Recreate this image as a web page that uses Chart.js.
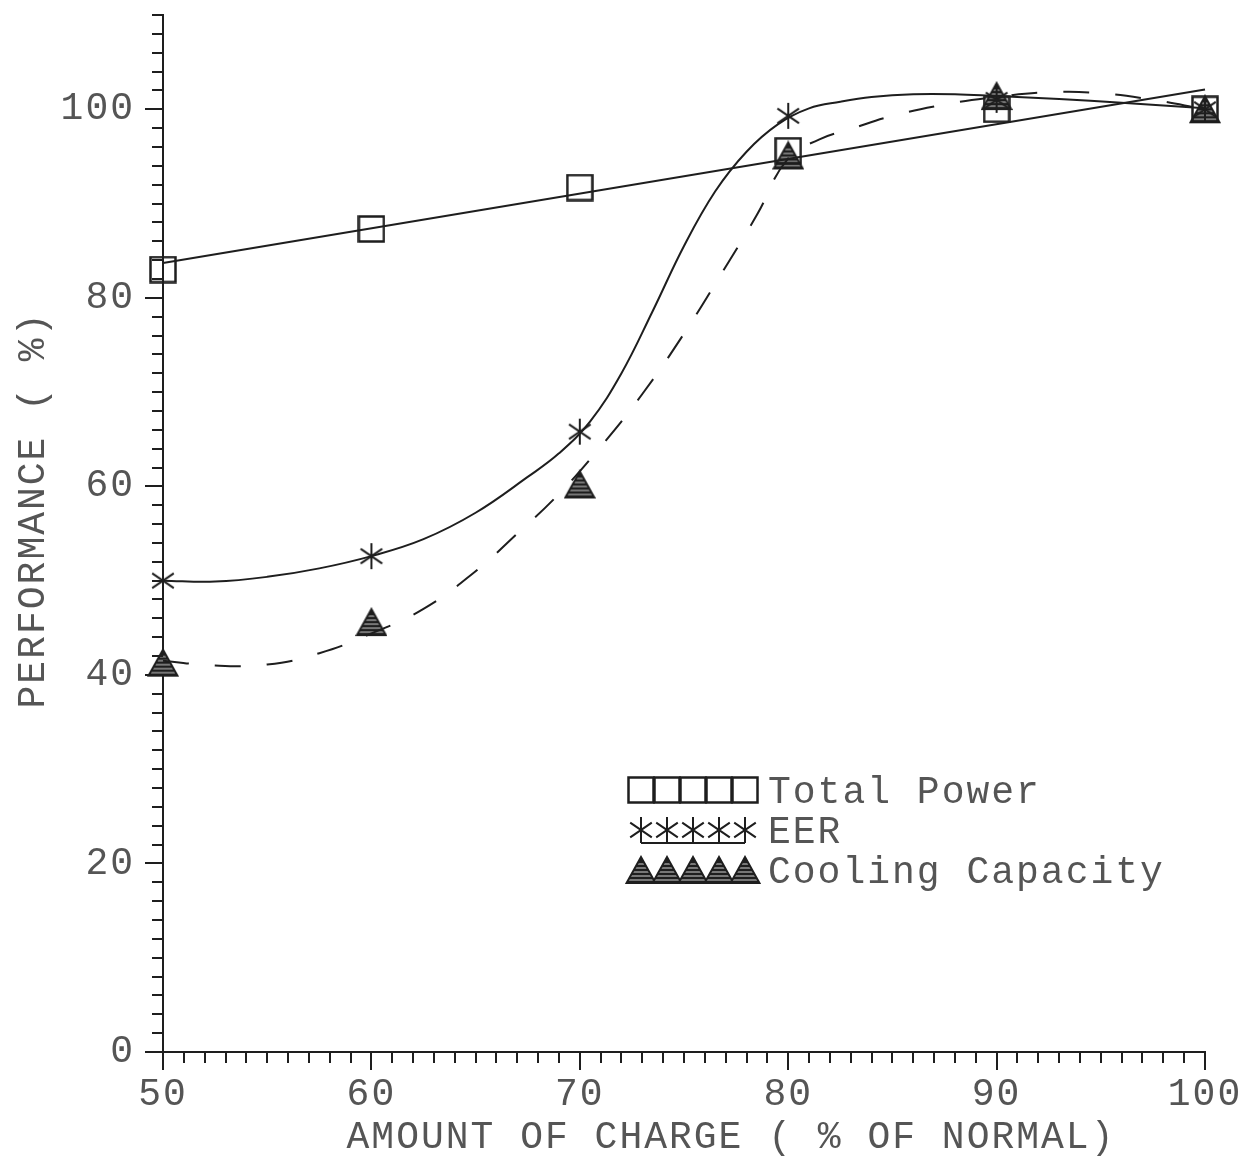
<!DOCTYPE html>
<html>
<head>
<meta charset="utf-8">
<title>Performance vs amount of charge</title>
<script src="https://cdn.jsdelivr.net/npm/chart.js@4.4.1/dist/chart.umd.min.js"></script>
<style>
  html, body { margin: 0; padding: 0; background: #fff; }
  #chart { display: block; }
</style>
</head>
<body>
<canvas id="chart" width="1250" height="1157"></canvas>
<script>
// measured points (% of normal charge)
const chargeLevels = [50, 60, 70, 80, 90, 100]
const totalPower = [83.0, 87.3, 91.7, 95.6, 100.0, 100.0]
const eer = [50.0, 52.6, 65.8, 99.3, 101.0, 100.0]
const coolingCapacity = [41.3, 45.6, 60.2, 95.1, 101.4, 100.0]

// fitted curves
const powerFitCharge = [50, 100]
const powerFitValues = [83.7, 102.1]
const eerFitCharge = [50, 52.5, 55, 57.5, 60, 62.5, 65, 67.5, 69, 70.5, 72, 73.5, 75, 76.5, 78, 79.5, 81, 82.5, 84, 86, 88, 90, 93, 96, 100]
const eerFit = [50.0, 49.9, 50.4, 51.3, 52.6, 54.4, 57.2, 61.0, 63.5, 66.9, 72.0, 78.6, 85.5, 91.3, 95.5, 98.4, 100.1, 100.8, 101.3, 101.6, 101.6, 101.4, 101.1, 100.7, 100.1]
const coolingFitCharge = [50, 52.5, 55, 57.5, 60, 62.5, 65, 67, 69, 71, 73, 75, 77, 78.5, 80, 81.5, 83, 85, 87.5, 90, 92.5, 95, 97.5, 100]
const coolingFit = [41.5, 41.0, 41.1, 42.3, 44.4, 47.0, 51.0, 55.0, 59.2, 64.2, 69.8, 76.2, 83.3, 88.8, 94.8, 96.8, 97.9, 99.3, 100.5, 101.3, 101.8, 101.7, 101.0, 100.0]

// axis tick labels
const xTickLabels = [50, 60, 70, 80, 90, 100]
const yTickLabels = [0, 20, 40, 60, 80, 100]

const ink = "#1e1e1e"
const textInk = "#555555"
const fontFamily = "'Liberation Mono', 'DejaVu Sans Mono', monospace"
const fontSize = 38

const toPoints = (xs, ys) => xs.map((x, i) => ({ x: x, y: ys[i] }))

// plotter style markers drawn on small canvases
function makeSquare() {
  const c = document.createElement("canvas")
  c.width = 28
  c.height = 28
  const g = c.getContext("2d")
  g.strokeStyle = ink
  g.lineWidth = 2.5
  g.strokeRect(1.5, 1.5, 25, 25)
  return c
}

function makeAsterisk() {
  const c = document.createElement("canvas")
  c.width = 30
  c.height = 30
  const g = c.getContext("2d")
  g.strokeStyle = ink
  g.lineWidth = 2
  g.beginPath()
  g.moveTo(15, 2)
  g.lineTo(15, 28)
  g.moveTo(4.2, 7.7)
  g.lineTo(25.8, 22.3)
  g.moveTo(4.2, 22.3)
  g.lineTo(25.8, 7.7)
  g.stroke()
  return c
}

function makeTriangle() {
  const c = document.createElement("canvas")
  c.width = 32
  c.height = 30
  const g = c.getContext("2d")
  const outline = () => {
    g.beginPath()
    g.moveTo(16, 2)
    g.lineTo(30.5, 28)
    g.lineTo(1.5, 28)
    g.closePath()
  }
  outline()
  g.fillStyle = ink
  g.fill()
  g.save()
  g.clip()
  g.strokeStyle = "#cfcfcf"
  g.lineWidth = 1.2
  for (let y = 9; y < 27; y += 4) {
    g.beginPath()
    g.moveTo(0, y)
    g.lineTo(32, y)
    g.stroke()
  }
  g.restore()
  g.strokeStyle = ink
  g.lineWidth = 2
  outline()
  g.stroke()
  return c
}

const squareMark = makeSquare()
const asteriskMark = makeAsterisk()
const triangleMark = makeTriangle()

// minor ticks, axis titles and the five-marker legend
const plotterDecor = {
  id: "plotterDecor",
  beforeDraw: (chart) => {
    chart.ctx.letterSpacing = "2px"
  },
  afterDraw: (chart) => {
    const ctx = chart.ctx
    const xs = chart.scales.x
    const ys = chart.scales.y
    const left = chart.chartArea.left
    const bottom = chart.chartArea.bottom
    ctx.save()
    ctx.strokeStyle = ink
    ctx.lineWidth = 2
    ctx.beginPath()
    for (let v = ys.min; v <= ys.max; v += 2) {
      const py = Math.round(ys.getPixelForValue(v))
      const len = v % 20 === 0 ? 18 : 11
      ctx.moveTo(left - len, py)
      ctx.lineTo(left, py)
    }
    for (let v = xs.min; v <= xs.max; v += 1) {
      const px = Math.round(xs.getPixelForValue(v))
      const len = v % 10 === 0 ? 18 : 11
      ctx.moveTo(px, bottom)
      ctx.lineTo(px, bottom + len)
    }
    ctx.stroke()

    // axis titles
    ctx.fillStyle = textInk
    ctx.font = fontSize + "px " + fontFamily
    ctx.letterSpacing = "2px"
    ctx.textAlign = "center"
    ctx.textBaseline = "alphabetic"
    ctx.fillText("AMOUNT OF CHARGE ( % OF NORMAL)", 731, 1148)
    ctx.save()
    ctx.translate(44, 510)
    ctx.rotate(-Math.PI / 2)
    ctx.fillText("PERFORMANCE ( %)", 0, 0)
    ctx.restore()

    // legend
    const items = chart.data.datasets.filter((d) => d.legendMark)
    items.forEach((d, i) => {
      const rowY = 790 + i * 40
      for (let k = 0; k < 5; k++) {
        const m = d.legendMark
        ctx.drawImage(m, 641 + k * 26 - m.width / 2, rowY - m.height / 2)
      }
      if (d.legendMark === asteriskMark) {
        ctx.beginPath()
        ctx.moveTo(641, rowY + 13)
        ctx.lineTo(745, rowY + 13)
        ctx.stroke()
      }
      ctx.textAlign = "left"
      ctx.fillText(d.label, 768, rowY + 13)
    })
    ctx.restore()
  },
}

const noScalePadding = (scale) => {
  scale.paddingTop = 0
  scale.paddingBottom = 0
  scale.paddingLeft = 0
  scale.paddingRight = 0
}

new Chart(document.getElementById("chart"), {
  type: "scatter",
  data: {
    datasets: [
      {
        label: "Total Power fit",
        data: toPoints(powerFitCharge, powerFitValues),
        showLine: true,
        borderColor: ink,
        borderWidth: 2,
        pointRadius: 0,
      },
      {
        label: "EER fit",
        data: toPoints(eerFitCharge, eerFit),
        showLine: true,
        tension: 0.4,
        borderColor: ink,
        borderWidth: 2,
        pointRadius: 0,
      },
      {
        label: "Cooling Capacity fit",
        data: toPoints(coolingFitCharge, coolingFit),
        showLine: true,
        tension: 0.45,
        borderColor: ink,
        borderWidth: 2,
        borderDash: [26, 26],
        pointRadius: 0,
      },
      {
        label: "Total Power",
        data: toPoints(chargeLevels, totalPower),
        pointStyle: squareMark,
        legendMark: squareMark,
        pointRadius: 14,
      },
      {
        label: "EER",
        data: toPoints(chargeLevels, eer),
        pointStyle: asteriskMark,
        legendMark: asteriskMark,
        pointRadius: 14,
      },
      {
        label: "Cooling Capacity",
        data: toPoints(chargeLevels, coolingCapacity),
        pointStyle: triangleMark,
        legendMark: triangleMark,
        pointRadius: 14,
      },
    ],
  },
  options: {
    responsive: false,
    animation: false,
    devicePixelRatio: 1,
    clip: false,
    layout: { padding: { top: 8, right: 45, left: 0, bottom: 0 } },
    plugins: {
      legend: { display: false },
      tooltip: { enabled: false },
    },
    scales: {
      x: {
        type: "linear",
        min: 50,
        max: 100,
        afterBuildTicks: (scale) => {
          scale.ticks = xTickLabels.map((v) => ({ value: v }))
        },
        afterFit: (scale) => {
          scale.height = 105
          noScalePadding(scale)
        },
        grid: { display: false, drawTicks: false },
        border: { display: true, color: ink, width: 2 },
        ticks: {
          color: textInk,
          font: { family: fontFamily, size: fontSize },
          padding: 20,
          maxRotation: 0,
          autoSkip: false,
        },
      },
      y: {
        type: "linear",
        min: 0,
        max: 110,
        afterBuildTicks: (scale) => {
          scale.ticks = yTickLabels.map((v) => ({ value: v }))
        },
        afterFit: (scale) => {
          scale.width = 163
          noScalePadding(scale)
        },
        grid: { display: false, drawTicks: false },
        border: { display: true, color: ink, width: 2 },
        ticks: {
          color: textInk,
          font: { family: fontFamily, size: fontSize },
          padding: 28,
          autoSkip: false,
        },
      },
    },
  },
  plugins: [plotterDecor],
})
</script>
</body>
</html>
